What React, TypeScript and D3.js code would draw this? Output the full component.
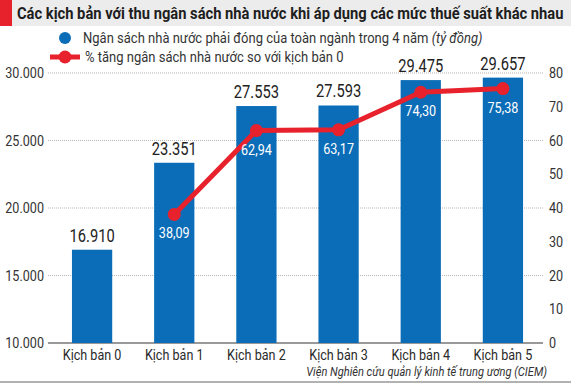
import * as d3 from 'd3';
import * as React from 'react';
import { useEffect, useRef } from 'react';

const W = 571;
const H = 384;

const categories = ['Kịch bản 0', 'Kịch bản 1', 'Kịch bản 2', 'Kịch bản 3', 'Kịch bản 4', 'Kịch bản 5'];
const budget = [16910, 23351, 27553, 27593, 29475, 29657];
const growth: (number | null)[] = [null, 38.09, 62.94, 63.17, 74.3, 75.38];
const leftTicks = [10000, 15000, 20000, 25000, 30000];
const rightTicks = [0, 10, 20, 30, 40, 50, 60, 70, 80];

const BLUE = '#0b6db7';
const RED = '#e8222c';
const FONT = 'Roboto, "Noto Sans", sans-serif';
const SX = 0.84; // condensed look

const vn = d3.formatLocale({ decimal: ',', thousands: '.', grouping: [3], currency: ['', ''] });
const fmtInt = vn.format(',d');
const fmtPct = vn.format(',.2f');

export default function App() {
  const ref = useRef<SVGSVGElement>(null);

  useEffect(() => {
    const svg = d3.select(ref.current);
    svg.selectAll('*').remove();

    const x = d3.scaleBand<string>().domain(categories).range([51, 544]).paddingInner(0.51).paddingOuter(0.255);
    const yL = d3.scaleLinear().domain([10000, 30000]).range([343, 73]);
    const yR = d3.scaleLinear().domain([0, 80]).range([343, 73]);
    const cx = (c: string) => (x(c) as number) + x.bandwidth() / 2;

    const text = (
      px: number,
      py: number,
      s: string,
      size: number,
      anchor: string,
      fill = '#2a2a2a',
      weight = 'normal',
      style = 'normal'
    ) =>
      svg
        .append('text')
        .attr('transform', `translate(${px},${py}) scale(${SX},1)`)
        .attr('text-anchor', anchor)
        .attr('font-family', FONT)
        .attr('font-size', size)
        .attr('font-weight', weight)
        .attr('font-style', style)
        .attr('fill', fill)
        .text(s);

    // header
    svg.append('rect').attr('x', 0).attr('y', 0).attr('width', W).attr('height', 26).attr('fill', '#ececec');
    svg.append('rect').attr('x', 0).attr('y', 0).attr('width', 12).attr('height', 26).attr('fill', RED);
    const title = text(17, 19, 'Các kịch bản với thu ngân sách nhà nước khi áp dụng các mức thuế suất khác nhau', 16.5, 'start', '#1e1e1e', 'bold');
    const tw = (title.node() as SVGTextElement).getComputedTextLength();
    if (tw > 0) title.attr('transform', `translate(17,19) scale(${546 / tw},1)`);

    // legend
    svg.append('circle').attr('cx', 65).attr('cy', 38).attr('r', 6).attr('fill', BLUE);
    const lt = text(83, 43, 'Ngân sách nhà nước phải đóng của toàn ngành trong 4 năm ', 15.5, 'start', '#333');
    lt.append('tspan').attr('font-style', 'italic').text('(tỷ đồng)');
    svg.append('line').attr('x1', 50).attr('x2', 80).attr('y1', 57).attr('y2', 57).attr('stroke', RED).attr('stroke-width', 5);
    svg.append('circle').attr('cx', 65).attr('cy', 57).attr('r', 6.5).attr('fill', RED);
    text(85, 62, '% tăng ngân sách nhà nước so với kịch bản 0', 15.5, 'start', '#333');

    // grid
    svg
      .selectAll('.grid')
      .data(leftTicks.slice(1))
      .enter()
      .append('line')
      .attr('class', 'grid')
      .attr('x1', 48)
      .attr('x2', 543)
      .attr('y1', d => yL(d))
      .attr('y2', d => yL(d))
      .attr('stroke', '#b5b5b5')
      .attr('stroke-dasharray', '1,1');
    svg.append('line').attr('x1', 48).attr('x2', 543).attr('y1', 343).attr('y2', 343).attr('stroke', '#777').attr('stroke-width', 1.5);

    leftTicks.forEach(t => text(44, yL(t) + 5, fmtInt(t), 15, 'end', '#333'));
    rightTicks.forEach(t => text(549, yR(t) + 5, String(t), 15, 'start', '#333'));

    // bars
    svg
      .selectAll('.bar')
      .data(budget)
      .enter()
      .append('rect')
      .attr('class', 'bar')
      .attr('x', (d, i) => x(categories[i]) as number)
      .attr('y', d => yL(d))
      .attr('width', x.bandwidth())
      .attr('height', d => 343 - yL(d))
      .attr('fill', BLUE);
    budget.forEach((v, i) => text(cx(categories[i]), yL(v) - 8, fmtInt(v), 17.5, 'middle', '#222'));

    // line
    const pts = growth
      .map((v, i) => ({ v, c: categories[i] }))
      .filter(p => p.v !== null) as { v: number; c: string }[];
    const line = d3
      .line<{ v: number; c: string }>()
      .x(p => cx(p.c))
      .y(p => yR(p.v));
    svg.append('path').attr('d', line(pts)).attr('fill', 'none').attr('stroke', RED).attr('stroke-width', 5).attr('stroke-linejoin', 'round');
    svg
      .selectAll('.dot')
      .data(pts)
      .enter()
      .append('circle')
      .attr('class', 'dot')
      .attr('cx', p => cx(p.c))
      .attr('cy', p => yR(p.v))
      .attr('r', 6.5)
      .attr('fill', RED);
    pts.forEach(p => text(cx(p.c), yR(p.v) + 24, fmtPct(p.v), 15, 'middle', '#fff'));

    // category labels
    categories.forEach(c => text(cx(c), 360, c, 15, 'middle', '#2a2a2a'));

    // source + bottom rule
    text(547, 376, 'Viện Nghiên cứu quản lý kinh tế trung ương (CIEM)', 13.2, 'end', '#333', 'normal', 'italic');
    svg.append('line').attr('x1', 0).attr('x2', W).attr('y1', 382).attr('y2', 382).attr('stroke', '#999').attr('stroke-width', 1.5);
  }, []);

  return <svg ref={ref} width={W} height={H} style={{ position: 'absolute', left: 0, top: 0, background: '#fff' }} />;
}
